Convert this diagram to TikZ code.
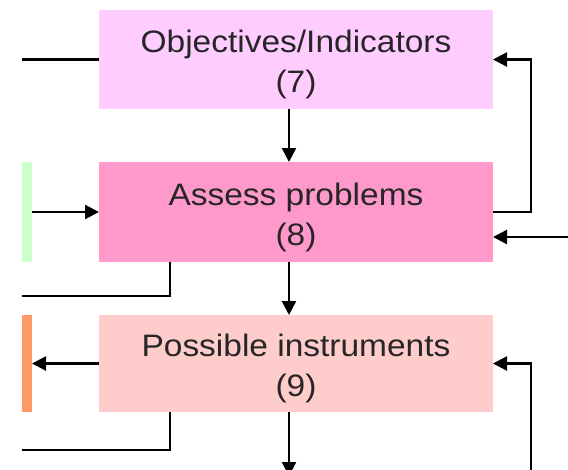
\documentclass[tikz,border=0pt]{standalone}
\usepackage{fontspec}
\setmainfont{Liberation Sans}[FakeStretch=1.08]
\usetikzlibrary{arrows.meta}
\definecolor{cseven}{HTML}{FFCCFF}
\definecolor{ceight}{HTML}{FF99CC}
\definecolor{cnine}{HTML}{FFCCCC}
\definecolor{cgreen}{HTML}{CCFFCC}
\definecolor{corange}{HTML}{FF9966}
\newcommand{\twolines}[2]{\rule{0pt}{33pt}#1\\#2}
\begin{document}
\begin{tikzpicture}[x=1pt,y=-1pt,
  box/.style={minimum width=394pt,inner sep=0pt,outer sep=0pt,align=center,
    text=black!85,font=\fontsize{31}{40}\selectfont},
  strip/.style={minimum width=10pt,inner sep=0pt,outer sep=0pt},
  conn/.style={line width=2.4pt,black},
  arr/.style={conn,-{Triangle[length=14pt,width=14pt]}}]
\useasboundingbox (0,0) rectangle (568,469);
\clip (0,0) rectangle (568,469);
\fill[white] (0,0) rectangle (568,469);

\node[box,fill=cseven,minimum height=99pt] (o) at (296,59.5) {\twolines{Objectives/Indicators}{(7)}};
\node[box,fill=ceight,minimum height=100pt] (a) at (296,212) {\twolines{Assess problems}{(8)}};
\node[box,fill=cnine,minimum height=97pt] (p) at (296,363.5) {\twolines{Possible instruments}{(9)}};
\node[strip,fill=cgreen,minimum height=100pt] (g) at (27,212) {};
\node[strip,fill=corange,minimum height=97pt] (r) at (27,363.5) {};

\coordinate (l7) at (22,59.5);
\coordinate (l8) at (22,296);
\coordinate (l9) at (22,450);
\coordinate (in8) at (570,237);
\coordinate (up9) at (531,475);

\draw[conn] (o.west) -- (l7);
\draw[arr] ([xshift=-7pt]o.south) -- ([xshift=-7pt]a.north);
\draw[arr] (g.east) -- (a.west);
\draw[arr] (a.east) -- ++(38,0) |- (o.east);
\draw[arr] (in8) -- (a.east |- in8);
\draw[conn] ([xshift=-126pt]a.south) |- (l8);
\draw[arr] ([xshift=-7pt]a.south) -- ([xshift=-7pt]p.north);
\draw[arr] (p.west) -- (r.east);
\draw[arr] (up9) |- (p.east);
\draw[conn] ([xshift=-126pt]p.south) |- (l9);
\draw[arr] ([xshift=-7pt]p.south) -- ++(0,64);
\end{tikzpicture}
\end{document}
